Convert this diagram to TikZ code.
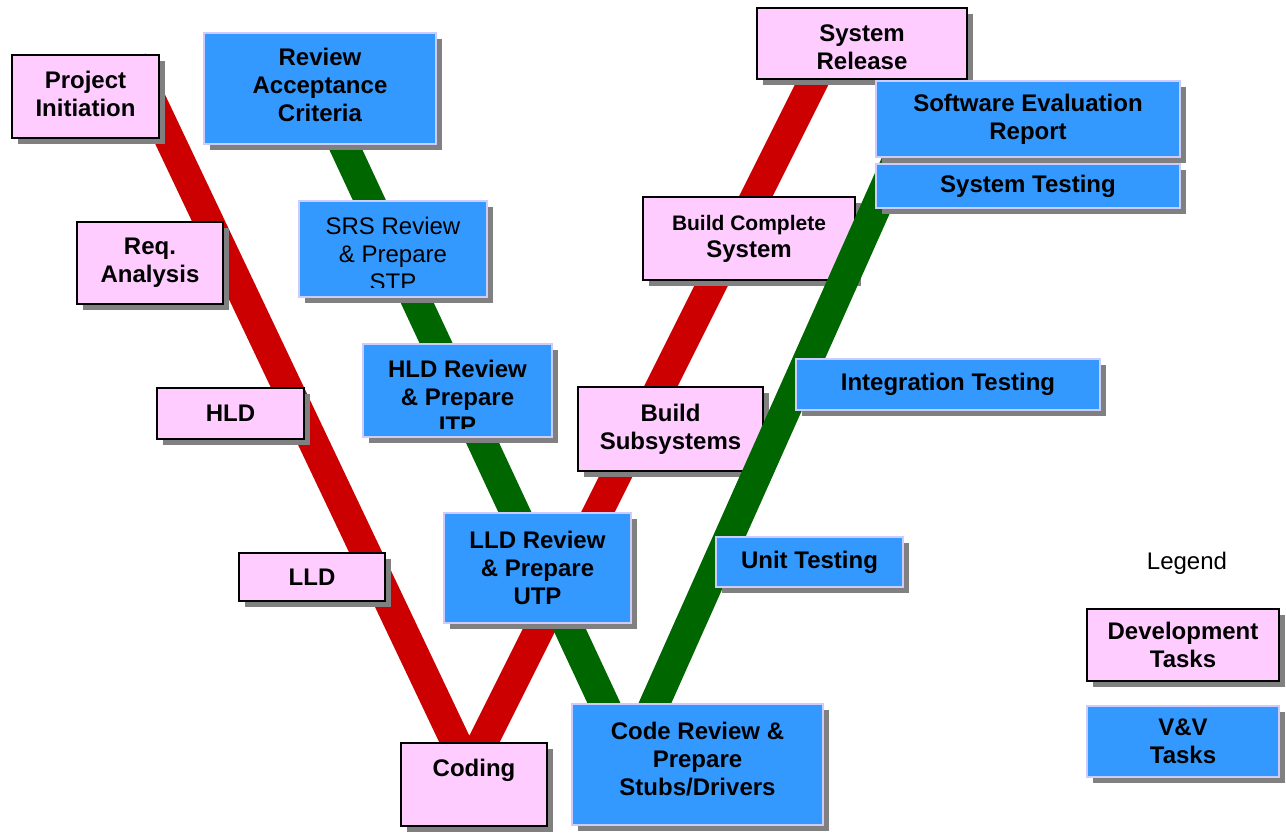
\documentclass[tikz,border=0pt]{standalone}
\usepackage{fontspec}
\setmainfont{Liberation Sans}
\usetikzlibrary{shadows}

\definecolor{devpink}{HTML}{FFCCFF}
\definecolor{vvblue}{HTML}{3399FF}
\definecolor{vvedge}{HTML}{CCCCFF}
\definecolor{devred}{HTML}{CC0000}
\definecolor{vvgreen}{HTML}{006600}
\definecolor{shade}{HTML}{808080}

\begin{document}
\begin{tikzpicture}[x=0.5pt,y=-0.5pt,every text node part/.style={align=center},
  taskfont/.style={font=\fontsize{12}{14}\selectfont\bfseries},
  task/.style={rectangle,inner sep=0pt,taskfont,
    drop shadow={shadow xshift=3pt,shadow yshift=-3pt,fill=shade,opacity=1}},
  dev/.style={task,draw=black,line width=0.8pt,fill=devpink},
  vv/.style={task,draw=vvedge,line width=0.8pt,fill=vvblue},
  band/.style={line width=15pt,line join=miter}]

\useasboundingbox (0,0) rectangle (1286,835);

%%%%%%%%%%%%%%%%%%%%%%%%%%%%%%%%%%%%%%

\coordinate (rtopl) at (132,60);
\coordinate (rbot) at (469,770);
\coordinate (rtopr) at (824,60);
\draw [band,devred] (rtopl) -- (rbot) -- (rtopr);

%%%%%%%%%%%%%%%%%%%%%%%%%%%%%%%%%%%%%%

\node [dev,minimum width=73.5pt,minimum height=41.5pt,text depth=3pt] (init) at (85.5,96.5) {Project\\Initiation};
\node [dev,minimum width=73pt,minimum height=41pt] (req) at (150,263) {Req.\\Analysis};
\node [dev,minimum width=73.5pt,minimum height=25.5pt] (hld) at (230.5,413.5) {HLD};
\node [dev,minimum width=73pt,minimum height=24pt] (lld) at (312,577) {LLD};
\node [dev,minimum width=73pt,minimum height=41.5pt,text depth=17pt] (coding) at (474,784.5) {Coding};
\node [dev,minimum width=92.5pt,minimum height=42pt] (bsub) at (670.5,429) {Build\\Subsystems};
\node [dev,minimum width=106pt,minimum height=41.5pt,font=\fontsize{10.5}{13.5}\selectfont\bfseries] (bcs) at (749,238.5) {Build Complete\\\fontsize{12}{13.5}\selectfont System};
\node [dev,minimum width=105pt,minimum height=35.5pt,text height=26.5pt] (sysrel) at (862,43.5) {System\\Release};

%%%%%%%%%%%%%%%%%%%%%%%%%%%%%%%%%%%%%%

\coordinate (gtopl) at (304,60);
\coordinate (gbot) at (630,759);
\coordinate (gtopr) at (915,120);
\draw [band,vvgreen] (gtopl) -- (gbot) -- (gtopr);

%%%%%%%%%%%%%%%%%%%%%%%%%%%%%%%%%%%%%%

\node [vv,minimum width=116pt,minimum height=55.5pt,text depth=4pt] (rac) at (320,88.5) {Review\\Acceptance\\Criteria};
\node [vv,minimum width=94pt,minimum height=48pt] (srs) at (393,249) {};
\begin{scope}
\clip ([yshift=5pt]srs.south west) rectangle (srs.north east);
\node [font=\fontsize{12}{14}\selectfont] (srstext) at (393,254) {SRS Review\\\& Prepare\\STP};
\end{scope}
\node [vv,minimum width=94.5pt,minimum height=46.5pt] (hldr) at (457.5,390.5) {};
\begin{scope}
\clip ([yshift=4.5pt]hldr.south west) rectangle (hldr.north east);
\node [taskfont] (hldrtext) at (457.5,397) {HLD Review\\\& Prepare\\ITP};
\end{scope}
\node [vv,minimum width=93.5pt,minimum height=55pt] (lldr) at (537.5,568) {LLD Review\\\& Prepare\\UTP};
\node [vv,minimum width=125.5pt,minimum height=60.5pt,text depth=6pt] (crev) at (697.5,764.5) {Code Review \&\\Prepare\\Stubs/Drivers};
\node [vv,minimum width=93.5pt,minimum height=25pt] (unit) at (809.5,562) {Unit Testing};
\node [vv,minimum width=152pt,minimum height=25.5pt] (integ) at (948,384.5) {Integration Testing};
\node [vv,minimum width=152pt,minimum height=38pt] (ser) at (1028,119) {Software Evaluation\\Report};
\node [vv,minimum width=152pt,minimum height=22pt] (systest) at (1028,186) {System Testing};

%%%%%%%%%%%%%%%%%%%%%%%%%%%%%%%%%%%%%%

\node [font=\fontsize{12}{14}\selectfont] (legend) at (1187,563) {Legend};
\node [dev,minimum width=96pt,minimum height=36pt] (devkey) at (1183,645) {Development\\Tasks};
\node [vv,minimum width=96pt,minimum height=35.5pt] (vvkey) at (1183,741.5) {V\&V\\Tasks};

\end{tikzpicture}
\end{document}
